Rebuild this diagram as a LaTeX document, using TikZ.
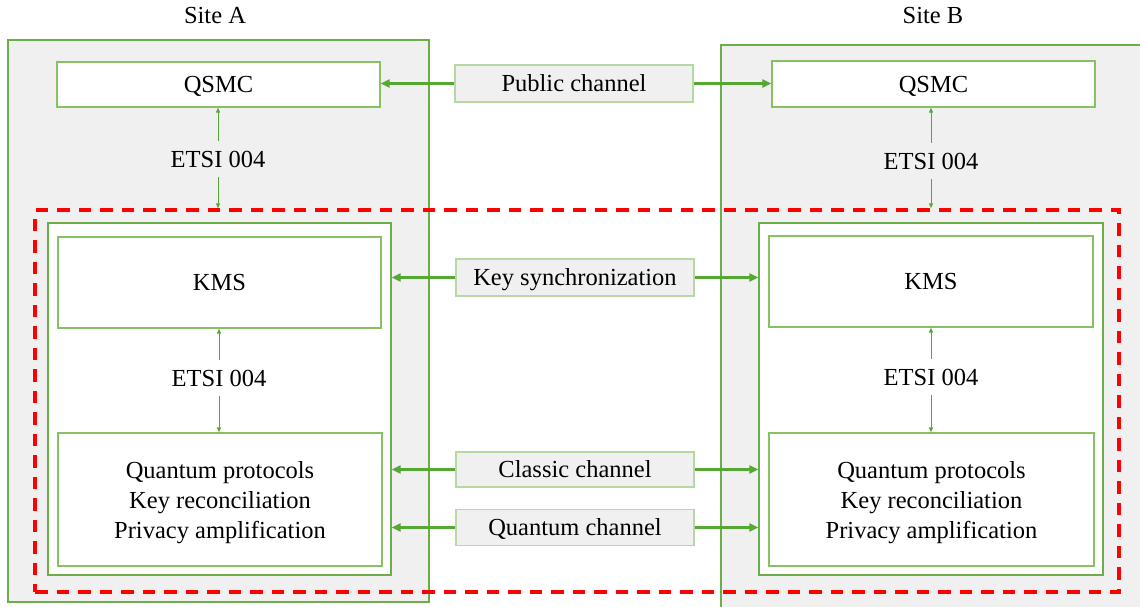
\documentclass[tikz,border=0pt]{standalone}
\usepackage{fontspec}
\setmainfont{Liberation Serif}
\usetikzlibrary{arrows.meta}
\definecolor{boxgreen}{HTML}{6AAE45}
\definecolor{softgreen}{HTML}{86C263}
\definecolor{labelgreen}{HTML}{B5D9A0}
\definecolor{arrowgreen}{HTML}{55A832}
\definecolor{panel}{HTML}{F0F0F0}
\definecolor{zonered}{HTML}{FF0000}
\begin{document}
\begin{tikzpicture}[x=1pt,y=-1pt,
  font=\fontsize{24.5}{30}\selectfont,
  sitebox/.style={draw=boxgreen, fill=panel, line width=1.3pt, inner sep=0pt},
  holder/.style={draw=boxgreen, fill=white, line width=1.3pt, inner sep=0pt},
  unit/.style={draw=softgreen, fill=white, line width=1.3pt, inner sep=0pt, align=center},
  oneline/.style={text height=16pt, text depth=0pt},
  bodytext/.style={inner sep=0pt, align=center},
  chlabel/.style={draw=labelgreen, fill=panel, line width=1.2pt, inner sep=0pt, oneline},
  iface/.style={inner sep=0pt, minimum height=36pt, oneline},
  zone/.style={draw=zonered, line width=3.5pt, dash pattern=on 12.5pt off 9pt, inner sep=0pt},
  thinlink/.style={draw=arrowgreen, line width=1pt, -{Triangle[length=5pt,width=4pt]}},
  thicklink/.style={draw=arrowgreen, line width=2.8pt, -{Triangle[length=9pt,width=8pt]}}
]
\useasboundingbox (0,0) rectangle (1140,606);

% site panels
\node[sitebox, minimum width=421pt, minimum height=562pt] (siteA) at (218.5,321) {};
\node[sitebox, minimum width=429pt, minimum height=575pt] (siteB) at (935.5,332.5) {};
\node[oneline] (titleA) at (215,15) {Site A};
\node[oneline] (titleB) at (933,15) {Site B};

% management controllers
\node[unit, oneline, minimum width=323pt, minimum height=45pt] (qsmcA) at (218.5,84.5) {QSMC};
\node[unit, oneline, minimum width=323pt, minimum height=46pt] (qsmcB) at (933.5,84) {QSMC};

% key management holders
\node[holder, minimum width=343pt, minimum height=352pt] (innerA) at (219.5,399) {};
\node[holder, minimum width=344pt, minimum height=352pt] (innerB) at (931,399) {};

\node[unit, oneline, minimum width=323pt, minimum height=91pt] (kmsA) at (219.5,282.5) {KMS};
\node[unit, oneline, minimum width=324pt, minimum height=91pt] (kmsB) at (931,281.5) {KMS};

\node[unit, minimum width=324pt, minimum height=133pt] (protoA) at (220,499.5) {};
\node[unit, minimum width=325pt, minimum height=133pt] (protoB) at (931.5,499.5) {};
\node[bodytext] (protoAtext) at ([yshift=-3pt]protoA.center)
  {Quantum protocols\\Key reconciliation\\Privacy amplification};
\node[bodytext] (protoBtext) at ([yshift=-3pt]protoB.center)
  {Quantum protocols\\Key reconciliation\\Privacy amplification};

% QKD zone
\node[zone, minimum width=1084pt, minimum height=382pt] (qkdzone) at (577,401) {};

% interface labels
\node[iface] (etsiA1) at (218,159) {ETSI 004};
\node[iface] (etsiB1) at (931,161) {ETSI 004};
\node[iface] (etsiA2) at (219,378) {ETSI 004};
\node[iface] (etsiB2) at (931,377) {ETSI 004};

\draw[thinlink] (etsiA1.north) -- (etsiA1.north |- qsmcA.south);
\draw[thinlink] (etsiA1.south) -- (etsiA1.south |- qkdzone.north);
\draw[thinlink] (etsiB1.north) -- (etsiB1.north |- qsmcB.south);
\draw[thinlink] (etsiB1.south) -- (etsiB1.south |- qkdzone.north);
\draw[thinlink] (etsiA2.north) -- (etsiA2.north |- kmsA.south);
\draw[thinlink] (etsiA2.south) -- (etsiA2.south |- protoA.north);
\draw[thinlink] (etsiB2.north) -- (etsiB2.north |- kmsB.south);
\draw[thinlink] (etsiB2.south) -- (etsiB2.south |- protoB.north);

% channels between the sites
\node[chlabel, minimum width=238pt, minimum height=37pt] (pubch) at (574,83.5) {Public channel};
\node[chlabel, minimum width=238pt, minimum height=37pt] (syncch) at (575,277.5) {Key synchronization};
\node[chlabel, minimum width=238pt, minimum height=35pt] (classch) at (575,469.5) {Classic channel};
\node[chlabel, minimum width=238pt, minimum height=36pt] (quantch) at (575,527.5) {Quantum channel};

\draw[thicklink] (pubch.west) -- (pubch.west -| qsmcA.east);
\draw[thicklink] (pubch.east) -- (pubch.east -| qsmcB.west);
\draw[thicklink] (syncch.west) -- (syncch.west -| innerA.east);
\draw[thicklink] (syncch.east) -- (syncch.east -| innerB.west);
\draw[thicklink] (classch.west) -- (classch.west -| innerA.east);
\draw[thicklink] (classch.east) -- (classch.east -| innerB.west);
\draw[thicklink] (quantch.west) -- (quantch.west -| innerA.east);
\draw[thicklink] (quantch.east) -- (quantch.east -| innerB.west);
\end{tikzpicture}
\end{document}
